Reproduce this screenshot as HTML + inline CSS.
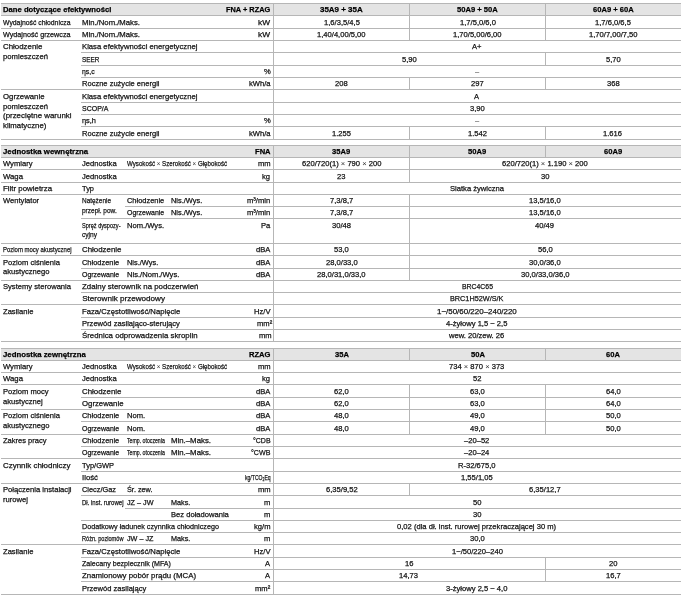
<!DOCTYPE html><html><head><meta charset="utf-8"><style>
html,body{margin:0;padding:0;background:#fff;}
body{width:685px;height:595px;position:relative;overflow:hidden;font-family:"Liberation Sans",sans-serif;will-change:transform;}
.h,.v,.b{position:absolute;}
.h{height:1px;background:#b6b6b6;}
.v{width:1px;background:#b6b6b6;}
.b{background:#e4e4e4;left:1px;width:680px;}
.t{position:absolute;white-space:nowrap;color:#111;line-height:10px;height:10px;-webkit-text-stroke:0.25px currentColor;}
.lt{color:#333;-webkit-text-stroke:0;}
.t.bd{font-weight:bold;color:#000;-webkit-text-stroke:0.25px currentColor;}
</style></head><body>

<div class="b" style="top:3px;height:12px"></div>
<div class="b" style="top:145px;height:12px"></div>
<div class="b" style="top:348px;height:12px"></div>
<div class="h" style="top:3px;left:1px;width:680px"></div>
<div class="h" style="top:15px;left:1px;width:680px"></div>
<div class="h" style="top:28px;left:1px;width:680px"></div>
<div class="h" style="top:40px;left:1px;width:680px"></div>
<div class="h" style="top:52px;left:81px;width:600px"></div>
<div class="h" style="top:65px;left:81px;width:600px"></div>
<div class="h" style="top:77px;left:81px;width:600px"></div>
<div class="h" style="top:89px;left:1px;width:680px"></div>
<div class="h" style="top:102px;left:81px;width:600px"></div>
<div class="h" style="top:114px;left:81px;width:600px"></div>
<div class="h" style="top:126px;left:81px;width:600px"></div>
<div class="h" style="top:139px;left:1px;width:680px"></div>
<div class="v" style="left:273px;top:3px;height:137px"></div>
<div class="v" style="left:409px;top:3px;height:38px"></div>
<div class="v" style="left:409px;top:77px;height:13px"></div>
<div class="v" style="left:409px;top:126px;height:14px"></div>
<div class="v" style="left:545px;top:3px;height:38px"></div>
<div class="v" style="left:545px;top:52px;height:14px"></div>
<div class="v" style="left:545px;top:77px;height:13px"></div>
<div class="v" style="left:545px;top:126px;height:14px"></div>
<div class="h" style="top:145px;left:1px;width:680px"></div>
<div class="h" style="top:157px;left:1px;width:680px"></div>
<div class="h" style="top:169px;left:1px;width:680px"></div>
<div class="h" style="top:182px;left:1px;width:680px"></div>
<div class="h" style="top:194px;left:1px;width:680px"></div>
<div class="h" style="top:206px;left:125px;width:556px"></div>
<div class="h" style="top:218px;left:81px;width:600px"></div>
<div class="h" style="top:243px;left:1px;width:680px"></div>
<div class="h" style="top:255px;left:1px;width:680px"></div>
<div class="h" style="top:268px;left:81px;width:600px"></div>
<div class="h" style="top:280px;left:1px;width:680px"></div>
<div class="h" style="top:292px;left:81px;width:600px"></div>
<div class="h" style="top:304px;left:1px;width:680px"></div>
<div class="h" style="top:317px;left:81px;width:600px"></div>
<div class="h" style="top:329px;left:81px;width:600px"></div>
<div class="h" style="top:341px;left:1px;width:680px"></div>
<div class="v" style="left:273px;top:145px;height:197px"></div>
<div class="v" style="left:409px;top:145px;height:38px"></div>
<div class="v" style="left:409px;top:194px;height:87px"></div>
<div class="v" style="left:545px;top:145px;height:13px"></div>
<div class="h" style="top:348px;left:1px;width:680px"></div>
<div class="h" style="top:360px;left:1px;width:680px"></div>
<div class="h" style="top:372px;left:1px;width:680px"></div>
<div class="h" style="top:384px;left:1px;width:680px"></div>
<div class="h" style="top:397px;left:81px;width:600px"></div>
<div class="h" style="top:409px;left:1px;width:680px"></div>
<div class="h" style="top:421px;left:81px;width:600px"></div>
<div class="h" style="top:434px;left:1px;width:680px"></div>
<div class="h" style="top:446px;left:81px;width:600px"></div>
<div class="h" style="top:458px;left:1px;width:680px"></div>
<div class="h" style="top:471px;left:81px;width:600px"></div>
<div class="h" style="top:483px;left:1px;width:680px"></div>
<div class="h" style="top:495px;left:81px;width:600px"></div>
<div class="h" style="top:508px;left:125px;width:556px"></div>
<div class="h" style="top:520px;left:81px;width:600px"></div>
<div class="h" style="top:532px;left:81px;width:600px"></div>
<div class="h" style="top:544px;left:1px;width:680px"></div>
<div class="h" style="top:557px;left:81px;width:600px"></div>
<div class="h" style="top:569px;left:81px;width:600px"></div>
<div class="h" style="top:581px;left:81px;width:600px"></div>
<div class="h" style="top:594px;left:1px;width:680px"></div>
<div class="v" style="left:273px;top:348px;height:247px"></div>
<div class="v" style="left:409px;top:348px;height:13px"></div>
<div class="v" style="left:409px;top:384px;height:51px"></div>
<div class="v" style="left:409px;top:483px;height:13px"></div>
<div class="v" style="left:545px;top:348px;height:13px"></div>
<div class="v" style="left:545px;top:384px;height:51px"></div>
<div class="v" style="left:545px;top:557px;height:25px"></div>
<div class="t bd" style="left:3.20px;top:5.00px;font-size:8.1px;transform:scaleX(0.948);transform-origin:0 0">Dane dotyczące efektywności</div>
<div class="t bd" style="left:226.00px;top:5.00px;font-size:8.1px;transform:scaleX(0.913);transform-origin:0 0">FNA + RZAG</div>
<div class="t bd" style="left:320.15px;top:5.00px;font-size:8.1px;transform:scaleX(0.983);transform-origin:0 0">35A9 + 35A</div>
<div class="t bd" style="left:457.13px;top:5.00px;font-size:8.1px;transform:scaleX(0.938);transform-origin:0 0">50A9 + 50A</div>
<div class="t bd" style="left:592.63px;top:5.00px;font-size:8.1px;transform:scaleX(0.938);transform-origin:0 0">60A9 + 60A</div>
<div class="t" style="left:3.20px;top:18.00px;font-size:8.1px;transform:scaleX(0.844);transform-origin:0 0">Wydajność chłodnicza</div>
<div class="t" style="left:82.20px;top:18.00px;font-size:8.1px;transform:scaleX(0.955);transform-origin:0 0">Min./Nom./Maks.</div>
<div class="t" style="left:258.30px;top:18.00px;font-size:8.1px;transform:scaleX(1.027);transform-origin:0 0">kW</div>
<div class="t" style="left:323.55px;top:18.00px;font-size:8.1px;transform:scaleX(0.938);transform-origin:0 0">1,6/3,5/4,5</div>
<div class="t" style="left:459.55px;top:18.00px;font-size:8.1px;transform:scaleX(0.938);transform-origin:0 0">1,7/5,0/6,0</div>
<div class="t" style="left:595.05px;top:18.00px;font-size:8.1px;transform:scaleX(0.938);transform-origin:0 0">1,7/6,0/6,5</div>
<div class="t" style="left:3.20px;top:30.00px;font-size:8.1px;transform:scaleX(0.889);transform-origin:0 0">Wydajność grzewcza</div>
<div class="t" style="left:82.20px;top:30.00px;font-size:8.1px;transform:scaleX(0.955);transform-origin:0 0">Min./Nom./Maks.</div>
<div class="t" style="left:258.30px;top:30.00px;font-size:8.1px;transform:scaleX(1.027);transform-origin:0 0">kW</div>
<div class="t" style="left:317.21px;top:30.00px;font-size:8.1px;transform:scaleX(0.938);transform-origin:0 0">1,40/4,00/5,00</div>
<div class="t" style="left:453.21px;top:30.00px;font-size:8.1px;transform:scaleX(0.938);transform-origin:0 0">1,70/5,00/6,00</div>
<div class="t" style="left:588.71px;top:30.00px;font-size:8.1px;transform:scaleX(0.938);transform-origin:0 0">1,70/7,00/7,50</div>
<div class="t" style="left:3.20px;top:42.00px;font-size:8.1px;transform:scaleX(0.975);transform-origin:0 0">Chłodzenie</div>
<div class="t" style="left:3.20px;top:52.00px;font-size:8.1px;transform:scaleX(0.952);transform-origin:0 0">pomieszczeń</div>
<div class="t" style="left:82.20px;top:42.00px;font-size:8.1px;transform:scaleX(0.950);transform-origin:0 0">Klasa efektywności energetycznej</div>
<div class="t" style="left:472.24px;top:42.00px;font-size:8.1px;transform:scaleX(0.938);transform-origin:0 0">A+</div>
<div class="t" style="left:82.20px;top:55.00px;font-size:8.1px;transform:scaleX(0.780);transform-origin:0 0">SEER</div>
<div class="t" style="left:401.60px;top:55.00px;font-size:8.1px;transform:scaleX(0.938);transform-origin:0 0">5,90</div>
<div class="t" style="left:605.60px;top:55.00px;font-size:8.1px;transform:scaleX(0.938);transform-origin:0 0">5,70</div>
<div class="t" style="left:82.20px;top:67.00px;font-size:8.1px;transform:scaleX(0.848);transform-origin:0 0">ηs,c</div>
<div class="t" style="left:263.54px;top:67.00px;font-size:8.1px;transform:scaleX(0.938);transform-origin:0 0">%</div>
<div class="t" style="left:474.88px;top:67.00px;font-size:8.1px;transform:scaleX(0.938);transform-origin:0 0"><span class="lt">–</span></div>
<div class="t" style="left:82.20px;top:79.00px;font-size:8.1px;transform:scaleX(0.931);transform-origin:0 0">Roczne zużycie energii</div>
<div class="t" style="left:248.76px;top:79.00px;font-size:8.1px;transform:scaleX(0.938);transform-origin:0 0">kWh/a</div>
<div class="t" style="left:335.16px;top:79.00px;font-size:8.1px;transform:scaleX(0.938);transform-origin:0 0">208</div>
<div class="t" style="left:471.16px;top:79.00px;font-size:8.1px;transform:scaleX(0.938);transform-origin:0 0">297</div>
<div class="t" style="left:606.66px;top:79.00px;font-size:8.1px;transform:scaleX(0.938);transform-origin:0 0">368</div>
<div class="t" style="left:3.20px;top:92.00px;font-size:8.1px;transform:scaleX(0.961);transform-origin:0 0">Ogrzewanie</div>
<div class="t" style="left:3.20px;top:102.00px;font-size:8.1px;transform:scaleX(0.952);transform-origin:0 0">pomieszczeń</div>
<div class="t" style="left:3.20px;top:111.00px;font-size:8.1px;transform:scaleX(0.976);transform-origin:0 0">(przeciętne warunki</div>
<div class="t" style="left:3.20px;top:121.00px;font-size:8.1px;transform:scaleX(0.963);transform-origin:0 0">klimatyczne)</div>
<div class="t" style="left:82.20px;top:92.00px;font-size:8.1px;transform:scaleX(0.950);transform-origin:0 0">Klasa efektywności energetycznej</div>
<div class="t" style="left:474.46px;top:92.00px;font-size:8.1px;transform:scaleX(0.938);transform-origin:0 0">A</div>
<div class="t" style="left:82.20px;top:104.00px;font-size:8.1px;transform:scaleX(0.866);transform-origin:0 0">SCOP/A</div>
<div class="t" style="left:469.60px;top:104.00px;font-size:8.1px;transform:scaleX(0.938);transform-origin:0 0">3,90</div>
<div class="t" style="left:82.20px;top:116.00px;font-size:8.1px;transform:scaleX(0.914);transform-origin:0 0">ηs,h</div>
<div class="t" style="left:263.54px;top:116.00px;font-size:8.1px;transform:scaleX(0.938);transform-origin:0 0">%</div>
<div class="t" style="left:474.88px;top:116.00px;font-size:8.1px;transform:scaleX(0.938);transform-origin:0 0"><span class="lt">–</span></div>
<div class="t" style="left:82.20px;top:129.00px;font-size:8.1px;transform:scaleX(0.931);transform-origin:0 0">Roczne zużycie energii</div>
<div class="t" style="left:248.76px;top:129.00px;font-size:8.1px;transform:scaleX(0.938);transform-origin:0 0">kWh/a</div>
<div class="t" style="left:331.99px;top:129.00px;font-size:8.1px;transform:scaleX(0.938);transform-origin:0 0">1.255</div>
<div class="t" style="left:467.99px;top:129.00px;font-size:8.1px;transform:scaleX(0.938);transform-origin:0 0">1.542</div>
<div class="t" style="left:603.49px;top:129.00px;font-size:8.1px;transform:scaleX(0.938);transform-origin:0 0">1.616</div>
<div class="t bd" style="left:3.20px;top:147.00px;font-size:8.1px;transform:scaleX(0.966);transform-origin:0 0">Jednostka wewnętrzna</div>
<div class="t bd" style="left:254.69px;top:147.00px;font-size:8.1px;transform:scaleX(0.938);transform-origin:0 0">FNA</div>
<div class="t bd" style="left:332.42px;top:147.00px;font-size:8.1px;transform:scaleX(0.938);transform-origin:0 0">35A9</div>
<div class="t bd" style="left:468.42px;top:147.00px;font-size:8.1px;transform:scaleX(0.938);transform-origin:0 0">50A9</div>
<div class="t bd" style="left:603.92px;top:147.00px;font-size:8.1px;transform:scaleX(0.938);transform-origin:0 0">60A9</div>
<div class="t" style="left:3.20px;top:159.00px;font-size:8.1px;transform:scaleX(0.938);transform-origin:0 0">Wymiary</div>
<div class="t" style="left:82.20px;top:159.00px;font-size:8.1px;transform:scaleX(0.938);transform-origin:0 0">Jednostka</div>
<div class="t" style="left:126.60px;top:159.00px;font-size:8.1px;transform:scaleX(0.762);transform-origin:0 0">Wysokość <span class="lt">×</span> Szerokość <span class="lt">×</span> Głębokość</div>
<div class="t" style="left:257.65px;top:159.00px;font-size:8.1px;transform:scaleX(0.938);transform-origin:0 0">mm</div>
<div class="t" style="left:301.81px;top:159.00px;font-size:8.1px;transform:scaleX(0.938);transform-origin:0 0">620/720(1) <span class="lt">×</span> 790 <span class="lt">×</span> 200</div>
<div class="t" style="left:502.14px;top:159.00px;font-size:8.1px;transform:scaleX(0.938);transform-origin:0 0">620/720(1) <span class="lt">×</span> 1.190 <span class="lt">×</span> 200</div>
<div class="t" style="left:3.20px;top:172.00px;font-size:8.1px;transform:scaleX(0.960);transform-origin:0 0">Waga</div>
<div class="t" style="left:82.20px;top:172.00px;font-size:8.1px;transform:scaleX(0.938);transform-origin:0 0">Jednostka</div>
<div class="t" style="left:262.27px;top:172.00px;font-size:8.1px;transform:scaleX(0.938);transform-origin:0 0">kg</div>
<div class="t" style="left:337.27px;top:172.00px;font-size:8.1px;transform:scaleX(0.938);transform-origin:0 0">23</div>
<div class="t" style="left:540.77px;top:172.00px;font-size:8.1px;transform:scaleX(0.938);transform-origin:0 0">30</div>
<div class="t" style="left:3.20px;top:184.00px;font-size:8.1px;transform:scaleX(0.973);transform-origin:0 0">Filtr powietrza</div>
<div class="t" style="left:82.20px;top:184.00px;font-size:8.1px;transform:scaleX(0.920);transform-origin:0 0">Typ</div>
<div class="t" style="left:449.99px;top:184.00px;font-size:8.1px;transform:scaleX(0.938);transform-origin:0 0">Siatka żywiczna</div>
<div class="t" style="left:3.20px;top:196.00px;font-size:8.1px;transform:scaleX(0.938);transform-origin:0 0">Wentylator</div>
<div class="t" style="left:82.20px;top:196.00px;font-size:8.1px;transform:scaleX(0.796);transform-origin:0 0">Natężenie</div>
<div class="t" style="left:82.20px;top:206.00px;font-size:8.1px;transform:scaleX(0.803);transform-origin:0 0">przepł. pow.</div>
<div class="t" style="left:126.60px;top:196.00px;font-size:8.1px;transform:scaleX(0.919);transform-origin:0 0">Chłodzenie</div>
<div class="t" style="left:170.60px;top:196.00px;font-size:8.1px;transform:scaleX(0.915);transform-origin:0 0">Nis./Wys.</div>
<div class="t" style="left:247.09px;top:196.00px;font-size:8.1px;transform:scaleX(0.938);transform-origin:0 0">m³/min</div>
<div class="t" style="left:329.88px;top:196.00px;font-size:8.1px;transform:scaleX(0.938);transform-origin:0 0">7,3/8,7</div>
<div class="t" style="left:529.16px;top:196.00px;font-size:8.1px;transform:scaleX(0.938);transform-origin:0 0">13,5/16,0</div>
<div class="t" style="left:126.60px;top:208.00px;font-size:8.1px;transform:scaleX(0.861);transform-origin:0 0">Ogrzewanie</div>
<div class="t" style="left:170.60px;top:208.00px;font-size:8.1px;transform:scaleX(0.915);transform-origin:0 0">Nis./Wys.</div>
<div class="t" style="left:247.09px;top:208.00px;font-size:8.1px;transform:scaleX(0.938);transform-origin:0 0">m³/min</div>
<div class="t" style="left:329.88px;top:208.00px;font-size:8.1px;transform:scaleX(0.938);transform-origin:0 0">7,3/8,7</div>
<div class="t" style="left:529.16px;top:208.00px;font-size:8.1px;transform:scaleX(0.938);transform-origin:0 0">13,5/16,0</div>
<div class="t" style="left:82.20px;top:221.00px;font-size:8.1px;transform:scaleX(0.690);transform-origin:0 0">Spręż dyspozy-</div>
<div class="t" style="left:82.20px;top:230.00px;font-size:8.1px;transform:scaleX(0.813);transform-origin:0 0">cyjny</div>
<div class="t" style="left:126.60px;top:221.00px;font-size:8.1px;transform:scaleX(0.938);transform-origin:0 0">Nom./Wys.</div>
<div class="t" style="left:261.01px;top:221.00px;font-size:8.1px;transform:scaleX(0.938);transform-origin:0 0">Pa</div>
<div class="t" style="left:331.99px;top:221.00px;font-size:8.1px;transform:scaleX(0.938);transform-origin:0 0">30/48</div>
<div class="t" style="left:535.49px;top:221.00px;font-size:8.1px;transform:scaleX(0.938);transform-origin:0 0">40/49</div>
<div class="t" style="left:3.20px;top:245.00px;font-size:8.1px;transform:scaleX(0.736);transform-origin:0 0">Poziom mocy akustycznej</div>
<div class="t" style="left:82.20px;top:245.00px;font-size:8.1px;transform:scaleX(0.975);transform-origin:0 0">Chłodzenie</div>
<div class="t" style="left:255.93px;top:245.00px;font-size:8.1px;transform:scaleX(0.938);transform-origin:0 0">dBA</div>
<div class="t" style="left:334.10px;top:245.00px;font-size:8.1px;transform:scaleX(0.938);transform-origin:0 0">53,0</div>
<div class="t" style="left:537.60px;top:245.00px;font-size:8.1px;transform:scaleX(0.938);transform-origin:0 0">56,0</div>
<div class="t" style="left:3.20px;top:258.00px;font-size:8.1px;transform:scaleX(0.938);transform-origin:0 0">Poziom ciśnienia</div>
<div class="t" style="left:3.20px;top:267.00px;font-size:8.1px;transform:scaleX(0.938);transform-origin:0 0">akustycznego</div>
<div class="t" style="left:82.20px;top:258.00px;font-size:8.1px;transform:scaleX(0.919);transform-origin:0 0">Chłodzenie</div>
<div class="t" style="left:126.60px;top:258.00px;font-size:8.1px;transform:scaleX(0.915);transform-origin:0 0">Nis./Wys.</div>
<div class="t" style="left:255.93px;top:258.00px;font-size:8.1px;transform:scaleX(0.938);transform-origin:0 0">dBA</div>
<div class="t" style="left:325.66px;top:258.00px;font-size:8.1px;transform:scaleX(0.938);transform-origin:0 0">28,0/33,0</div>
<div class="t" style="left:529.16px;top:258.00px;font-size:8.1px;transform:scaleX(0.938);transform-origin:0 0">30,0/36,0</div>
<div class="t" style="left:82.20px;top:270.00px;font-size:8.1px;transform:scaleX(0.861);transform-origin:0 0">Ogrzewanie</div>
<div class="t" style="left:126.60px;top:270.00px;font-size:8.1px;transform:scaleX(0.939);transform-origin:0 0">Nis./Nom./Wys.</div>
<div class="t" style="left:255.93px;top:270.00px;font-size:8.1px;transform:scaleX(0.938);transform-origin:0 0">dBA</div>
<div class="t" style="left:317.21px;top:270.00px;font-size:8.1px;transform:scaleX(0.938);transform-origin:0 0">28,0/31,0/33,0</div>
<div class="t" style="left:520.71px;top:270.00px;font-size:8.1px;transform:scaleX(0.938);transform-origin:0 0">30,0/33,0/36,0</div>
<div class="t" style="left:3.20px;top:282.00px;font-size:8.1px;transform:scaleX(0.939);transform-origin:0 0">Systemy sterowania</div>
<div class="t" style="left:82.20px;top:282.00px;font-size:8.1px;transform:scaleX(0.973);transform-origin:0 0">Zdalny sterownik na podczerwień</div>
<div class="t" style="left:461.50px;top:282.00px;font-size:8.1px;transform:scaleX(0.850);transform-origin:0 0">BRC4C65</div>
<div class="t" style="left:82.20px;top:294.00px;font-size:8.1px">Sterownik przewodowy</div>
<div class="t" style="left:450.30px;top:294.00px;font-size:8.1px;transform:scaleX(0.899);transform-origin:0 0">BRC1H52W/S/K</div>
<div class="t" style="left:3.20px;top:307.00px;font-size:8.1px;transform:scaleX(0.938);transform-origin:0 0">Zasilanie</div>
<div class="t" style="left:82.20px;top:307.00px;font-size:8.1px;transform:scaleX(0.950);transform-origin:0 0">Faza/Częstotliwość/Napięcie</div>
<div class="t" style="left:253.84px;top:307.00px;font-size:8.1px;transform:scaleX(0.938);transform-origin:0 0">Hz/V</div>
<div class="t" style="left:437.10px;top:307.00px;font-size:8.1px;transform:scaleX(0.982);transform-origin:0 0">1~/50/60/220–240/220</div>
<div class="t" style="left:82.20px;top:319.00px;font-size:8.1px;transform:scaleX(0.938);transform-origin:0 0">Przewód zasilająco-sterujący</div>
<div class="t" style="left:256.81px;top:319.00px;font-size:8.1px;transform:scaleX(0.938);transform-origin:0 0">mm²</div>
<div class="t" style="left:446.29px;top:319.00px;font-size:8.1px;transform:scaleX(0.938);transform-origin:0 0">4-żyłowy 1,5 ~ 2,5</div>
<div class="t" style="left:82.20px;top:331.00px;font-size:8.1px;transform:scaleX(0.969);transform-origin:0 0">Średnica odprowadzenia skroplin</div>
<div class="t" style="left:259.35px;top:331.00px;font-size:8.1px;transform:scaleX(0.938);transform-origin:0 0">mm</div>
<div class="t" style="left:449.34px;top:331.00px;font-size:8.1px;transform:scaleX(0.938);transform-origin:0 0">wew. 20/zew. 26</div>
<div class="t bd" style="left:3.20px;top:350.00px;font-size:8.1px;transform:scaleX(0.963);transform-origin:0 0">Jednostka zewnętrzna</div>
<div class="t bd" style="left:248.78px;top:350.00px;font-size:8.1px;transform:scaleX(0.938);transform-origin:0 0">RZAG</div>
<div class="t bd" style="left:334.53px;top:350.00px;font-size:8.1px;transform:scaleX(0.938);transform-origin:0 0">35A</div>
<div class="t bd" style="left:470.53px;top:350.00px;font-size:8.1px;transform:scaleX(0.938);transform-origin:0 0">50A</div>
<div class="t bd" style="left:606.03px;top:350.00px;font-size:8.1px;transform:scaleX(0.938);transform-origin:0 0">60A</div>
<div class="t" style="left:3.20px;top:362.00px;font-size:8.1px;transform:scaleX(0.938);transform-origin:0 0">Wymiary</div>
<div class="t" style="left:82.20px;top:362.00px;font-size:8.1px;transform:scaleX(0.938);transform-origin:0 0">Jednostka</div>
<div class="t" style="left:126.60px;top:362.00px;font-size:8.1px;transform:scaleX(0.762);transform-origin:0 0">Wysokość <span class="lt">×</span> Szerokość <span class="lt">×</span> Głębokość</div>
<div class="t" style="left:257.65px;top:362.00px;font-size:8.1px;transform:scaleX(0.938);transform-origin:0 0">mm</div>
<div class="t" style="left:449.34px;top:362.00px;font-size:8.1px;transform:scaleX(0.938);transform-origin:0 0">734 <span class="lt">×</span> 870 <span class="lt">×</span> 373</div>
<div class="t" style="left:3.20px;top:374.00px;font-size:8.1px;transform:scaleX(0.960);transform-origin:0 0">Waga</div>
<div class="t" style="left:82.20px;top:374.00px;font-size:8.1px;transform:scaleX(0.938);transform-origin:0 0">Jednostka</div>
<div class="t" style="left:262.27px;top:374.00px;font-size:8.1px;transform:scaleX(0.938);transform-origin:0 0">kg</div>
<div class="t" style="left:472.77px;top:374.00px;font-size:8.1px;transform:scaleX(0.938);transform-origin:0 0">52</div>
<div class="t" style="left:3.20px;top:387.00px;font-size:8.1px;transform:scaleX(0.938);transform-origin:0 0">Poziom mocy</div>
<div class="t" style="left:3.20px;top:397.00px;font-size:8.1px;transform:scaleX(0.938);transform-origin:0 0">akustycznej</div>
<div class="t" style="left:82.20px;top:387.00px;font-size:8.1px;transform:scaleX(0.975);transform-origin:0 0">Chłodzenie</div>
<div class="t" style="left:255.93px;top:387.00px;font-size:8.1px;transform:scaleX(0.938);transform-origin:0 0">dBA</div>
<div class="t" style="left:334.10px;top:387.00px;font-size:8.1px;transform:scaleX(0.938);transform-origin:0 0">62,0</div>
<div class="t" style="left:470.10px;top:387.00px;font-size:8.1px;transform:scaleX(0.938);transform-origin:0 0">63,0</div>
<div class="t" style="left:605.60px;top:387.00px;font-size:8.1px;transform:scaleX(0.938);transform-origin:0 0">64,0</div>
<div class="t" style="left:82.20px;top:399.00px;font-size:8.1px;transform:scaleX(0.961);transform-origin:0 0">Ogrzewanie</div>
<div class="t" style="left:255.93px;top:399.00px;font-size:8.1px;transform:scaleX(0.938);transform-origin:0 0">dBA</div>
<div class="t" style="left:334.10px;top:399.00px;font-size:8.1px;transform:scaleX(0.938);transform-origin:0 0">62,0</div>
<div class="t" style="left:470.10px;top:399.00px;font-size:8.1px;transform:scaleX(0.938);transform-origin:0 0">63,0</div>
<div class="t" style="left:605.60px;top:399.00px;font-size:8.1px;transform:scaleX(0.938);transform-origin:0 0">64,0</div>
<div class="t" style="left:3.20px;top:411.00px;font-size:8.1px;transform:scaleX(0.938);transform-origin:0 0">Poziom ciśnienia</div>
<div class="t" style="left:3.20px;top:421.00px;font-size:8.1px;transform:scaleX(0.938);transform-origin:0 0">akustycznego</div>
<div class="t" style="left:82.20px;top:411.00px;font-size:8.1px;transform:scaleX(0.919);transform-origin:0 0">Chłodzenie</div>
<div class="t" style="left:126.60px;top:411.00px;font-size:8.1px;transform:scaleX(0.938);transform-origin:0 0">Nom.</div>
<div class="t" style="left:255.93px;top:411.00px;font-size:8.1px;transform:scaleX(0.938);transform-origin:0 0">dBA</div>
<div class="t" style="left:334.10px;top:411.00px;font-size:8.1px;transform:scaleX(0.938);transform-origin:0 0">48,0</div>
<div class="t" style="left:470.10px;top:411.00px;font-size:8.1px;transform:scaleX(0.938);transform-origin:0 0">49,0</div>
<div class="t" style="left:605.60px;top:411.00px;font-size:8.1px;transform:scaleX(0.938);transform-origin:0 0">50,0</div>
<div class="t" style="left:82.20px;top:424.00px;font-size:8.1px;transform:scaleX(0.861);transform-origin:0 0">Ogrzewanie</div>
<div class="t" style="left:126.60px;top:424.00px;font-size:8.1px;transform:scaleX(0.938);transform-origin:0 0">Nom.</div>
<div class="t" style="left:255.93px;top:424.00px;font-size:8.1px;transform:scaleX(0.938);transform-origin:0 0">dBA</div>
<div class="t" style="left:334.10px;top:424.00px;font-size:8.1px;transform:scaleX(0.938);transform-origin:0 0">48,0</div>
<div class="t" style="left:470.10px;top:424.00px;font-size:8.1px;transform:scaleX(0.938);transform-origin:0 0">49,0</div>
<div class="t" style="left:605.60px;top:424.00px;font-size:8.1px;transform:scaleX(0.938);transform-origin:0 0">50,0</div>
<div class="t" style="left:3.20px;top:436.00px;font-size:8.1px;transform:scaleX(0.930);transform-origin:0 0">Zakres pracy</div>
<div class="t" style="left:82.20px;top:436.00px;font-size:8.1px;transform:scaleX(0.919);transform-origin:0 0">Chłodzenie</div>
<div class="t" style="left:126.60px;top:436.00px;font-size:8.1px;transform:scaleX(0.641);transform-origin:0 0">Temp. otoczenia</div>
<div class="t" style="left:170.60px;top:436.00px;font-size:8.1px;transform:scaleX(0.966);transform-origin:0 0">Min.–Maks.</div>
<div class="t" style="left:252.70px;top:436.00px;font-size:8.1px;transform:scaleX(0.866);transform-origin:0 0">°CDB</div>
<div class="t" style="left:464.33px;top:436.00px;font-size:8.1px;transform:scaleX(0.938);transform-origin:0 0">–20–52</div>
<div class="t" style="left:82.20px;top:448.00px;font-size:8.1px;transform:scaleX(0.861);transform-origin:0 0">Ogrzewanie</div>
<div class="t" style="left:126.60px;top:448.00px;font-size:8.1px;transform:scaleX(0.641);transform-origin:0 0">Temp. otoczenia</div>
<div class="t" style="left:170.60px;top:448.00px;font-size:8.1px;transform:scaleX(0.966);transform-origin:0 0">Min.–Maks.</div>
<div class="t" style="left:250.90px;top:448.00px;font-size:8.1px;transform:scaleX(0.877);transform-origin:0 0">°CWB</div>
<div class="t" style="left:464.33px;top:448.00px;font-size:8.1px;transform:scaleX(0.938);transform-origin:0 0">–20–24</div>
<div class="t" style="left:3.20px;top:461.00px;font-size:8.1px;transform:scaleX(0.981);transform-origin:0 0">Czynnik chłodniczy</div>
<div class="t" style="left:82.20px;top:461.00px;font-size:8.1px;transform:scaleX(0.924);transform-origin:0 0">Typ/GWP</div>
<div class="t" style="left:458.21px;top:461.00px;font-size:8.1px;transform:scaleX(0.938);transform-origin:0 0">R-32/675,0</div>
<div class="t" style="left:82.20px;top:473.00px;font-size:8.1px;transform:scaleX(0.961);transform-origin:0 0">Ilość</div>
<div class="t" style="left:244.60px;top:473.00px;font-size:8.1px;transform:scaleX(0.628);transform-origin:0 0">kg/TCO₂Eq</div>
<div class="t" style="left:461.16px;top:473.00px;font-size:8.1px;transform:scaleX(0.938);transform-origin:0 0">1,55/1,05</div>
<div class="t" style="left:3.20px;top:485.00px;font-size:8.1px;transform:scaleX(0.940);transform-origin:0 0">Połączenia instalacji</div>
<div class="t" style="left:3.20px;top:495.00px;font-size:8.1px;transform:scaleX(0.938);transform-origin:0 0">rurowej</div>
<div class="t" style="left:82.20px;top:485.00px;font-size:8.1px;transform:scaleX(0.910);transform-origin:0 0">Ciecz/Gaz</div>
<div class="t" style="left:126.60px;top:485.00px;font-size:8.1px;transform:scaleX(0.900);transform-origin:0 0">Śr. zew.</div>
<div class="t" style="left:257.65px;top:485.00px;font-size:8.1px;transform:scaleX(0.938);transform-origin:0 0">mm</div>
<div class="t" style="left:325.66px;top:485.00px;font-size:8.1px;transform:scaleX(0.938);transform-origin:0 0">6,35/9,52</div>
<div class="t" style="left:529.16px;top:485.00px;font-size:8.1px;transform:scaleX(0.938);transform-origin:0 0">6,35/12,7</div>
<div class="t" style="left:82.20px;top:498.00px;font-size:8.1px;transform:scaleX(0.744);transform-origin:0 0">Dł. inst. rurowej</div>
<div class="t" style="left:126.60px;top:498.00px;font-size:8.1px;transform:scaleX(0.893);transform-origin:0 0">JZ – JW</div>
<div class="t" style="left:170.60px;top:498.00px;font-size:8.1px;transform:scaleX(0.894);transform-origin:0 0">Maks.</div>
<div class="t" style="left:263.97px;top:498.00px;font-size:8.1px;transform:scaleX(0.938);transform-origin:0 0">m</div>
<div class="t" style="left:472.77px;top:498.00px;font-size:8.1px;transform:scaleX(0.938);transform-origin:0 0">50</div>
<div class="t" style="left:170.60px;top:510.00px;font-size:8.1px;transform:scaleX(0.938);transform-origin:0 0">Bez doładowania</div>
<div class="t" style="left:263.97px;top:510.00px;font-size:8.1px;transform:scaleX(0.938);transform-origin:0 0">m</div>
<div class="t" style="left:472.77px;top:510.00px;font-size:8.1px;transform:scaleX(0.938);transform-origin:0 0">30</div>
<div class="t" style="left:82.20px;top:522.00px;font-size:8.1px;transform:scaleX(0.890);transform-origin:0 0">Dodatkowy ładunek czynnika chłodniczego</div>
<div class="t" style="left:253.84px;top:522.00px;font-size:8.1px;transform:scaleX(0.938);transform-origin:0 0">kg/m</div>
<div class="t" style="left:397.44px;top:522.00px;font-size:8.1px;transform:scaleX(0.938);transform-origin:0 0">0,02 (dla dł. inst. rurowej przekraczającej 30 m)</div>
<div class="t" style="left:82.20px;top:534.00px;font-size:8.1px;transform:scaleX(0.693);transform-origin:0 0">Różn. poziomów</div>
<div class="t" style="left:126.60px;top:534.00px;font-size:8.1px;transform:scaleX(0.893);transform-origin:0 0">JW – JZ</div>
<div class="t" style="left:170.60px;top:534.00px;font-size:8.1px;transform:scaleX(0.894);transform-origin:0 0">Maks.</div>
<div class="t" style="left:263.97px;top:534.00px;font-size:8.1px;transform:scaleX(0.938);transform-origin:0 0">m</div>
<div class="t" style="left:469.60px;top:534.00px;font-size:8.1px;transform:scaleX(0.938);transform-origin:0 0">30,0</div>
<div class="t" style="left:3.20px;top:547.00px;font-size:8.1px;transform:scaleX(0.938);transform-origin:0 0">Zasilanie</div>
<div class="t" style="left:82.20px;top:547.00px;font-size:8.1px;transform:scaleX(0.950);transform-origin:0 0">Faza/Częstotliwość/Napięcie</div>
<div class="t" style="left:253.84px;top:547.00px;font-size:8.1px;transform:scaleX(0.938);transform-origin:0 0">Hz/V</div>
<div class="t" style="left:451.55px;top:547.00px;font-size:8.1px;transform:scaleX(0.938);transform-origin:0 0">1~/50/220–240</div>
<div class="t" style="left:82.20px;top:559.00px;font-size:8.1px;transform:scaleX(0.875);transform-origin:0 0">Zalecany bezpiecznik (MFA)</div>
<div class="t" style="left:265.23px;top:559.00px;font-size:8.1px;transform:scaleX(0.938);transform-origin:0 0">A</div>
<div class="t" style="left:404.77px;top:559.00px;font-size:8.1px;transform:scaleX(0.938);transform-origin:0 0">16</div>
<div class="t" style="left:608.77px;top:559.00px;font-size:8.1px;transform:scaleX(0.938);transform-origin:0 0">20</div>
<div class="t" style="left:82.20px;top:571.00px;font-size:8.1px;transform:scaleX(0.971);transform-origin:0 0">Znamionowy pobór prądu (MCA)</div>
<div class="t" style="left:265.23px;top:571.00px;font-size:8.1px;transform:scaleX(0.938);transform-origin:0 0">A</div>
<div class="t" style="left:399.49px;top:571.00px;font-size:8.1px;transform:scaleX(0.938);transform-origin:0 0">14,73</div>
<div class="t" style="left:605.60px;top:571.00px;font-size:8.1px;transform:scaleX(0.938);transform-origin:0 0">16,7</div>
<div class="t" style="left:82.20px;top:584.00px;font-size:8.1px;transform:scaleX(0.934);transform-origin:0 0">Przewód zasilający</div>
<div class="t" style="left:255.11px;top:584.00px;font-size:8.1px;transform:scaleX(0.938);transform-origin:0 0">mm²</div>
<div class="t" style="left:446.29px;top:584.00px;font-size:8.1px;transform:scaleX(0.938);transform-origin:0 0">3-żyłowy 2,5 ~ 4,0</div>
</body></html>
